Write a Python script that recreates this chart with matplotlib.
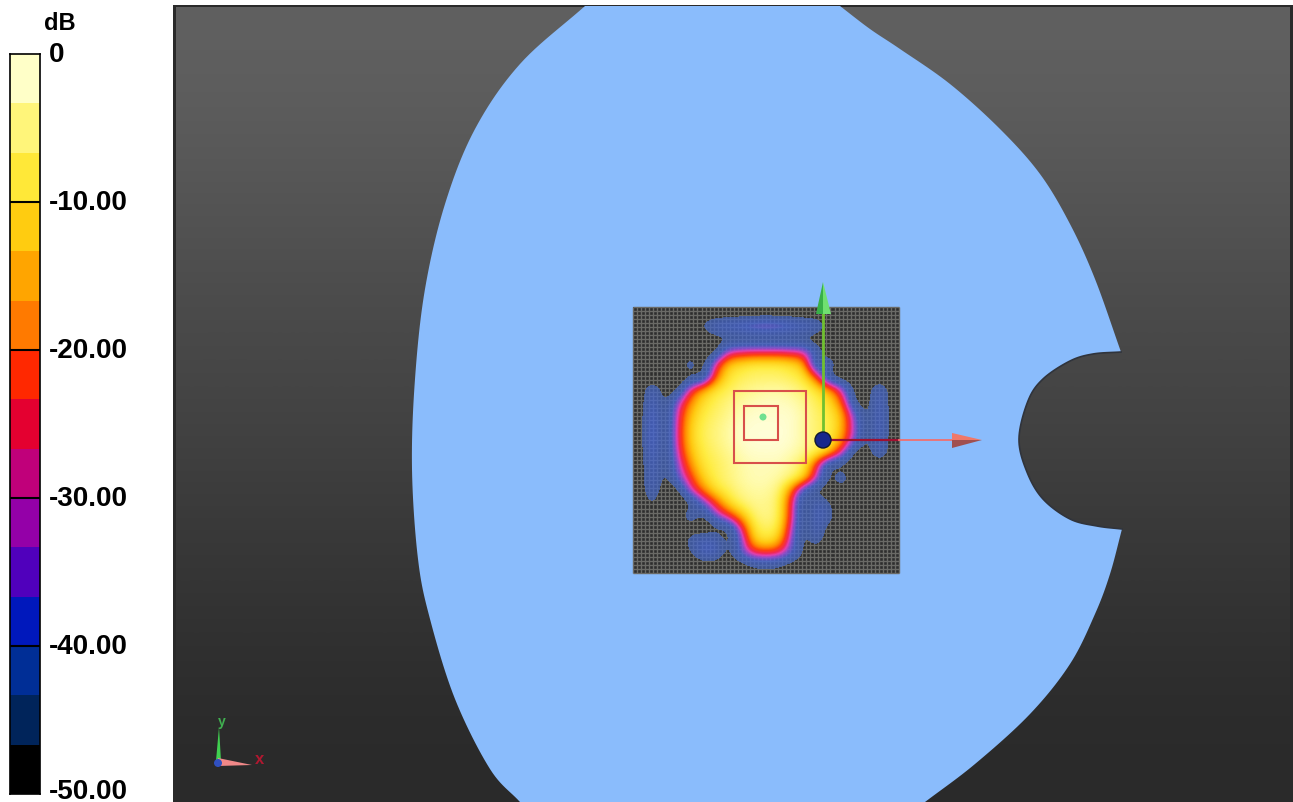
import numpy as np
import matplotlib
matplotlib.use("Agg")
import matplotlib.pyplot as plt
from matplotlib.colors import ListedColormap, BoundaryNorm, LinearSegmentedColormap, Normalize
from matplotlib.patches import Polygon, Rectangle, Circle
from matplotlib.transforms import ScaledTranslation

W, H = 1293, 803
plt.rcParams['font.family'] = ['Liberation Sans', 'DejaVu Sans']

# colour scale
levels = [-50, -46.67, -43.33, -40, -36.67, -33.33, -30, -26.67, -23.33, -20, -16.67, -13.33, -10, -6.67, -3.33, 0]
band_colors = ['#000000', '#00245A', '#002E96', '#0018BC', '#5000BC', '#9400A8', '#C0007A', '#E40030',
               '#FF2800', '#FF7A00', '#FFA500', '#FFCC10', '#FFE838', '#FFF57A', '#FFFFC8']
tick_values = [0, -10, -20, -30, -40, -50]
tick_labels = ['0', '-10.00', '-20.00', '-30.00', '-40.00', '-50.00']

# map colours (brighter than the legend)
VMIN = -46
map_stops = [(VMIN, '#4468C8A8'), (-38, '#4868DCC0'), (-33, '#8A50D8E0'), (-29, '#E040B0'), (-26, '#F02858'),
             (-22, '#FF4010'), (-18, '#FF8A00'), (-13, '#FFC810'), (-8, '#FFEC40'), (-3, '#FFFAA0'), (0, '#FFFFE0')]

# phantom outline pieces, picture pixels
right_upper = [(840, 7), (870, 30), (900, 50), (950, 85), (1000, 130), (1040, 175), (1070, 225), (1095, 280), (1121, 353)]
notch = [(1121, 353), (1093, 355), (1070, 362), (1043, 380), (1028, 402), (1019, 440), (1027, 473), (1043, 500),
         (1070, 520), (1097, 527), (1122, 530)]
right_lower = [(1122, 530), (1110, 575), (1095, 615), (1070, 665), (1030, 715), (975, 765), (925, 803)]
left_side = [(520, 803), (490, 770), (455, 700), (430, 620), (418, 560), (412, 470), (415, 380), (425, 290),
             (445, 205), (475, 130), (520, 65), (585, 7)]
background_shades = ['#606060', '#5a5a5a', '#525252', '#4a4a4a', '#444444', '#3c3c3c', '#353535', '#2e2e2e', '#2a2a2a']

# measured field, dB (G = below display threshold)
G = -52
field_db = [
 [G,G,G,G,G,G,G,G,G,G,G,G,G,G,G,G,G,G,G,G,G],
 [G,G,G,G,G,-44,-37,-35,-33,-30,-29,-30,-33,-36,-38,-48,G,G,G,G,G],
 [G,G,G,G,G,G,-50,-50,-50,-50,-50,-50,-50,-50,G,G,G,G,G,G,G],
 [G,G,G,G,G,G,-50,-30,-28,-27,-27,-27,-28,-29,-40,G,G,G,G,G,G],
 [G,G,G,G,-38,G,-27,-13,-10,-8,-8,-8,-10,-14,-50,-38,G,G,G,G,G],
 [G,G,G,G,-50,-50,-21,-9,-7,-6,-6,-6,-7,-9,-21,-50,G,G,G,G,G],
 [G,-38,-50,-50,-26,-15,-9,-7,-5,-4,-3,-3,-4,-6,-9,-15,-29,-50,-50,-37,G],
 [G,-36,-50,-32,-18,-10,-7,-5,-3,-2,-1.5,-1.5,-2,-4,-7,-10,-20,-48,-50,-36,G],
 [G,-33,-50,-28,-14,-8,-6,-4,-2,-1,-1,-1,-1,-3,-6,-8,-14,-34,-50,-35,G],
 [G,-32,-50,-27,-12,-7,-5,-3,-1,-0.5,-0.5,-0.5,-1,-3,-6,-7,-14,-32,-50,-35,G],
 [G,-32,-50,-27,-12,-7,-5,-3,-1,-0.5,-0.5,-0.5,-1,-3,-6,-8,-16,-33,-50,-36,G],
 [G,-34,-50,-29,-14,-8,-6,-4,-2,-1,-1,-1,-2,-4,-7,-12,-28,-50,-50,-37,G],
 [G,-36,-50,-33,-18,-9,-7,-5,-3,-2,-2,-2,-4,-8,-25,-50,-50,G,G,G,G],
 [G,-37,-50,-36,-24,-12,-7,-5,-3,-2,-2,-3,-5,-10,-29,-50,-38,G,G,G,G],
 [G,-38,G,-50,-30,-19,-10,-7,-4,-3,-3,-5,-19,-42,-50,-50,-50,G,G,G,G],
 [G,-44,G,G,-50,-36,-23,-11,-6,-4,-4,-6,-25,-50,-38,-46,G,G,G,G,G],
 [G,G,G,G,-38,-50,-34,-25,-15,-6,-4,-6,-25,-50,-38,-42,G,G,G,G,G],
 [G,G,G,G,-50,G,-50,-50,-29,-9,-6,-8,-29,-50,-38,-50,G,G,G,G,G],
 [G,G,G,G,-42,-38,-38,-50,-36,-13,-9,-13,-33,-50,-41,G,G,G,G,G,G],
 [G,G,G,G,-48,-38,-38,-50,-36,-27,-25,-27,-36,-48,G,G,G,G,G,G,G],
 [G,G,G,G,G,G,G,G,G,-48,-48,-48,G,G,G,G,G,G,G,G,G],
]


def smooth(points, n=12):
    """Catmull-Rom path through an outline's read-off points."""
    p = np.array(points, float)
    p = np.vstack([2 * p[0] - p[1], p, 2 * p[-1] - p[-2]])
    out = []
    t = np.linspace(0, 1, n, endpoint=False)[:, None]
    for i in range(1, len(p) - 2):
        a, b, c, d = p[i - 1], p[i], p[i + 1], p[i + 2]
        out.append(0.5 * (2 * b + (c - a) * t + (2 * a - 5 * b + 4 * c - d) * t ** 2 + (3 * b - a - 3 * c + d) * t ** 3))
    out.append(p[-2][None, :])
    return np.vstack(out)


fig = plt.figure(figsize=(W / 100, H / 100), dpi=100, facecolor='white')
ax = fig.add_axes([0, 0, 1, 1])
ax.set_xlim(0, W)
ax.set_ylim(H, 0)
ax.axis('off')

# background panel
shades = np.array([matplotlib.colors.to_rgb(c) for c in background_shades])[:, None, :]
ax.imshow(shades, extent=(173, W, H, 7), aspect='auto', interpolation='bicubic', zorder=1)
for rect in [(173, 6, 3, H - 6), (173, 6, W - 173, 2), (W - 3, 6, 3, H - 6)]:
    ax.add_patch(Rectangle(rect[:2], rect[2], rect[3], fc='#2a2a2a', ec='none', zorder=1.5))

# phantom
outline = np.vstack([smooth(right_upper), smooth(notch), smooth(right_lower), smooth(left_side)])
ax.add_patch(Polygon(outline, closed=True, fc='#8ABCFC', ec='none', zorder=2))
ax.plot(*smooth(notch).T, color='#30343c', lw=1.2, zorder=2.1)

# measurement area with mesh
x0, x1, y0, y1 = 633, 899, 308, 574
ax.add_patch(Rectangle((x0, y0), x1 - x0, y1 - y0, fc='#2e2e2e', ec='none', zorder=3))
mesh = np.linspace(0, 1, 67)
ax.vlines(x0 + mesh * (x1 - x0), y0, y1, color='#6a6a66', lw=1.0, zorder=3.1)
ax.hlines(y0 + mesh * (y1 - y0), x0, x1, color='#6a6a66', lw=1.0, zorder=3.1)

norm = Normalize(VMIN, 0)
cmap = LinearSegmentedColormap.from_list('field', [((v - VMIN) / -VMIN, c) for v, c in map_stops], N=256)
cmap.set_under((0, 0, 0, 0))
ax.imshow(np.array(field_db, float), extent=(x0, x1, y1, y0), aspect='auto', cmap=cmap, norm=norm,
          interpolation='bicubic', interpolation_stage='data', zorder=3.5)
ax.set_xlim(0, W)
ax.set_ylim(H, 0)

# evaluation squares
for (sx, sy, s) in [(734, 392, 72), (744, 407, 34)]:
    ax.add_patch(Rectangle((sx, sy), s, s, fc='none', ec='#D8504A', lw=1.5, zorder=5))
ax.add_patch(Circle((763, 418), 3.5, fc='#70E090', ec='none', zorder=5))

# probe axes
ax.plot([823, 823], [441, 315], color='#70C030', lw=2, zorder=6)
ax.add_patch(Polygon([(816, 315), (823, 283), (823, 315)], fc='#38B048', ec='none', zorder=6))
ax.add_patch(Polygon([(831, 315), (823, 283), (823, 315)], fc='#70E070', ec='none', zorder=6))
ax.plot([823, 899], [441, 441], color='#A01030', lw=1.6, zorder=6)
ax.plot([899, 955], [441, 441], color='#F07070', lw=1.3, zorder=6)
ax.add_patch(Polygon([(952, 434), (982, 441), (952, 441)], fc='#F07868', ec='none', zorder=6))
ax.add_patch(Polygon([(952, 449), (982, 441), (952, 441)], fc='#A05050', ec='none', zorder=6))
ax.add_patch(Circle((823, 441), 8, fc='#18288C', ec='#101830', lw=1, zorder=7))

# corner triad
ax.add_patch(Polygon([(216, 762), (221, 762), (219, 728)], fc='#40D050', ec='none', zorder=6))
ax.add_patch(Polygon([(218, 759), (218, 767), (252, 766)], fc='#F08888', ec='none', zorder=6))
ax.add_patch(Circle((218, 764), 4, fc='#3050C0', ec='none', zorder=7))
ax.text(222, 722, 'y', color='#40B050', fontsize=10, fontweight='bold', ha='center', va='center', zorder=7)
ax.text(260, 760, 'x', color='#B01830', fontsize=12, fontweight='bold', ha='center', va='center', zorder=7)

# colour bar
cax = fig.add_axes([10 / W, 1 - 795 / H, 30 / W, 740 / H])
cax.pcolormesh([0, 1], levels, np.arange(15)[:, None], cmap=ListedColormap(band_colors),
               norm=BoundaryNorm(np.arange(16) - 0.5, 15))
cax.set_xlim(0, 1)
cax.set_ylim(-50, 0)
cax.set_xticks([])
cax.hlines(tick_values[1:-1], 0, 1, color='black', lw=1.5)
for s in cax.spines.values():
    s.set_linewidth(1.2)
cax.yaxis.tick_right()
cax.set_yticks(tick_values)
cax.set_yticklabels(tick_labels, fontsize=20, fontweight='bold')
cax.tick_params(axis='y', length=0, pad=6.5)
for lab in cax.get_yticklabels():
    lab.set_verticalalignment('center')
last = cax.get_yticklabels()[-1]
last.set_transform(last.get_transform() + ScaledTranslation(0, 3 / 100, fig.dpi_scale_trans))
cax.text(60, 23, 'dB', transform=ax.transData, fontsize=17, fontweight='bold', ha='center', va='center')

fig.savefig('out.png', dpi=100)
